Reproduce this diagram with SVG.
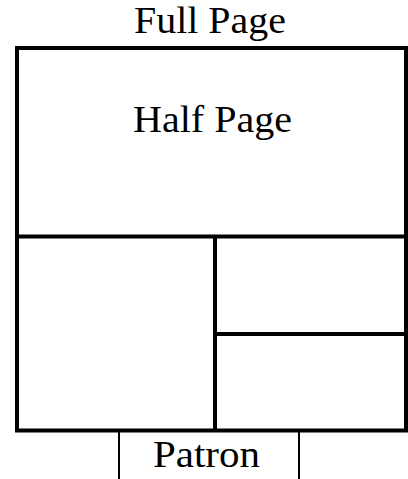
<svg xmlns="http://www.w3.org/2000/svg" width="408" height="479" viewBox="0 0 408 479">
<rect width="408" height="479" fill="#fff"/>
<g id="full-page">
<rect x="17" y="48" width="389" height="382.5" fill="none" stroke="#000" stroke-width="4"/>
<text x="210" y="33" font-family="Times New Roman" font-size="37" text-anchor="middle" textLength="152" lengthAdjust="spacingAndGlyphs">Full Page</text>
</g>
<g id="half-page">
<text x="212.5" y="132" font-family="Times New Roman" font-size="37" text-anchor="middle" textLength="159" lengthAdjust="spacingAndGlyphs">Half Page</text>
</g>
<g id="patron">
<text x="206.5" y="467" font-family="Times New Roman" font-size="37" text-anchor="middle" textLength="107" lengthAdjust="spacingAndGlyphs">Patron</text>
</g>
<g id="connectors" fill="none" stroke="#000">
<g stroke-width="4">
<line x1="17" y1="236.5" x2="406" y2="236.5"/>
<line x1="215" y1="236.5" x2="215" y2="430.5"/>
<line x1="215" y1="334" x2="406" y2="334"/>
</g>
<g stroke-width="2">
<line x1="119" y1="432" x2="119" y2="479"/>
<line x1="299" y1="432" x2="299" y2="479"/>
</g>
</g>
</svg>
